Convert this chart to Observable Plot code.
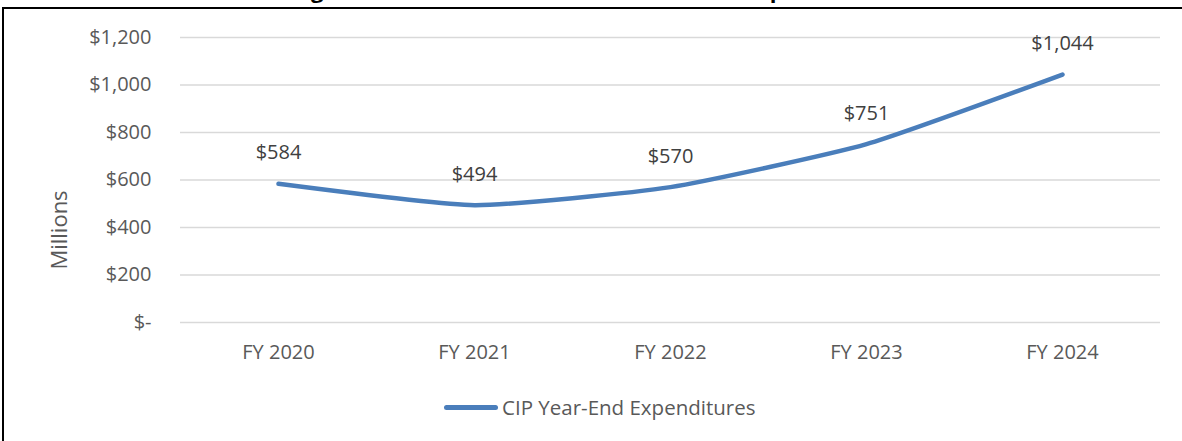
<!DOCTYPE html>
<html>
<head>
<meta charset="utf-8">
<script src="https://cdn.jsdelivr.net/npm/d3@7"></script>
<script src="https://cdn.jsdelivr.net/npm/@observablehq/plot@0.6"></script>
<style>
  html, body { margin: 0; padding: 0; background: #fff; overflow: hidden; }
  #page { position: relative; width: 1182px; height: 441px; font-family: "Open Sans", sans-serif; }
  #title { position: absolute; left: 0; width: 1182px; top: -22px; text-align: center; font-weight: bold; font-size: 22px; line-height: 22px; color: #000; white-space: nowrap; }
  #frame { position: absolute; left: 2px; top: 7px; width: 1200px; height: 460px; border-left: 2px solid #000; border-top: 2px solid #000; box-sizing: border-box; }
  #chart { position: absolute; left: 0; top: 0; }
  #ylabel { position: absolute; left: 58px; top: 230px; transform: translate(-50%, -50%) rotate(-90deg); font-size: 22px; color: #595959; white-space: nowrap; }
  #legend { position: absolute; left: 444px; top: 393px; display: flex; align-items: center; font-size: 20.5px; color: #595959; white-space: nowrap; }
  #legend .sw { width: 54px; height: 5px; border-radius: 3px; background: #4a7ebb; margin-right: 4px; }
</style>
</head>
<body>
<div id="page">
  <div id="title">Figure 5: Historical Trend of CIP Year-End Expenditures</div>
  <div id="chart"></div>
  <div id="frame"></div>
  <div id="ylabel">Millions</div>
  <div id="legend"><span class="sw"></span><span id="legendText"></span></div>
</div>
<script>
const years = ["FY 2020", "FY 2021", "FY 2022", "FY 2023", "FY 2024"];
const expenditures = [584, 494, 570, 751, 1044];
const yTicks = [0, 200, 400, 600, 800, 1000, 1200];
const seriesName = "CIP Year-End Expenditures";

const data = years.map((year, i) => ({ year, value: expenditures[i] }));
const money = d3.format(",");

const chart = Plot.plot({
  width: 1182,
  height: 380,
  marginLeft: 180,
  marginRight: 22,
  marginTop: 37,
  marginBottom: 58,
  style: { fontFamily: "'Open Sans', sans-serif", fontSize: "20px", color: "#595959", background: "transparent", overflow: "visible" },
  x: { type: "point", domain: years, padding: 0.5, label: null },
  y: { domain: [0, 1200], label: null },
  marks: [
    Plot.ruleY(yTicks, { stroke: "#d9d9d9", strokeWidth: 1.5 }),
    Plot.axisY({ ticks: yTicks, tickSize: 0, tickPadding: 29, tickFormat: d => d === 0 ? "$-" : "$" + money(d), label: null, fontSize: 20 }),
    Plot.axisX({ tickSize: 0, tickPadding: 22, label: null, fontSize: 20 }),
    Plot.line(data, { x: "year", y: "value", curve: "cardinal", tension: 0.5, stroke: "#4a7ebb", strokeWidth: 4.5, strokeLinecap: "round", strokeLinejoin: "round" }),
    Plot.text(data, { x: "year", y: "value", text: d => "$" + money(d.value), dy: -31, fill: "#404040", fontSize: 20 })
  ]
});
document.getElementById("chart").appendChild(chart);
document.getElementById("legendText").textContent = seriesName;
</script>
</body>
</html>
